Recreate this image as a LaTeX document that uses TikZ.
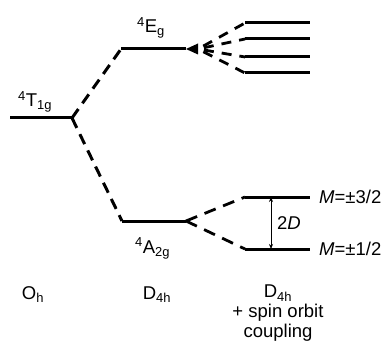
\documentclass[tikz,border=0pt]{standalone}
\usepackage{fontspec}
\setmainfont{Liberation Sans}
\usetikzlibrary{positioning,arrows.meta,calc}

\begin{document}
\begin{tikzpicture}[
    x=1pt,
    y=-1pt,
    font=\fontsize{18.5}{20}\selectfont,
    level/.style={line width=3pt},
    link/.style={line width=3pt, dash pattern=on 11pt off 7pt},
    fan/.style={line width=2.8pt, dash pattern=on 10pt off 8pt, shorten <=6pt},
    split/.style={line width=2.8pt, dash pattern=on 12pt off 8pt},
    gap/.style={{Stealth[length=5pt,width=4pt]}-{Stealth[length=5pt,width=4pt]}, line width=0.8pt},
    lbl/.style={inner sep=0pt}
]
\useasboundingbox (0,0) rectangle (383,342);

% ============================================================
% O_h
% ============================================================
\coordinate (t1a) at (10,118);
\coordinate (t1b) at (72,118);
\draw[level] (t1a) -- (t1b);
\node[lbl, anchor=base west] (t1lab) at (18,107) {\textsuperscript{4}T\textsubscript{1g}};

% ============================================================
% D_4h
% ============================================================
\coordinate (ega) at (121,49);
\coordinate (egb) at (186,49);
\draw[level] (ega) -- (egb);
\fill (egb) -- ++(12,-5.5) -- ++(0,11) -- cycle;
\coordinate (tip) at ($(egb)+(12,0)$);
\node[lbl, anchor=base west] (eglab) at (137,33) {\textsuperscript{4}E\textsubscript{g}};

\coordinate (a2a) at (122,221);
\coordinate (a2b) at (186,221);
\draw[level] (a2a) -- (a2b);
\node[lbl, anchor=base west] (a2lab) at (135,253) {\textsuperscript{4}A\textsubscript{2g}};

\draw[link] (t1b) -- (ega);
\draw[link] (t1b) -- (a2a);

% ============================================================
% D_4h + SPIN ORBIT
% ============================================================
\foreach \i/\yy in {1/23,2/39,3/57,4/73}{
    \coordinate (ea\i) at (245,\yy);
    \coordinate (eb\i) at (310,\yy);
    \draw[level] (ea\i) -- (eb\i);
    \draw[fan] (tip) -- (ea\i);
}

\coordinate (m3a) at (245,197);
\coordinate (m3b) at (310,197);
\coordinate (m1a) at (245,249);
\coordinate (m1b) at (310,249);
\draw[level] (m3a) -- (m3b);
\draw[level] (m1a) -- (m1b);
\draw[split] (a2b) -- (m3a);
\draw[split] (a2b) -- (m1a);

\coordinate (gt) at (271,197);
\coordinate (gb) at (271,249);
\draw[gap] (gt) -- (gb);
\node[lbl, right=6pt of $(gt)!0.5!(gb)$] (dlab) {2\textit{D}};

\node[lbl, anchor=west, right=9pt of m3b] (m3lab) {\textit{M}=±3/2};
\node[lbl, anchor=west, right=9pt of m1b] (m1lab) {\textit{M}=±1/2};

% ============================================================
% SYMMETRY
% ============================================================
\node[lbl, anchor=base] (oh) at (33,299) {O\textsubscript{h}};
\node[lbl, anchor=base] (d4h) at (157,299) {D\textsubscript{4h}};
\node[lbl, anchor=north, align=center] (d4hso) at (278,285)
    {D\textsubscript{4h}\\+ spin orbit\\coupling};

\end{tikzpicture}
\end{document}
